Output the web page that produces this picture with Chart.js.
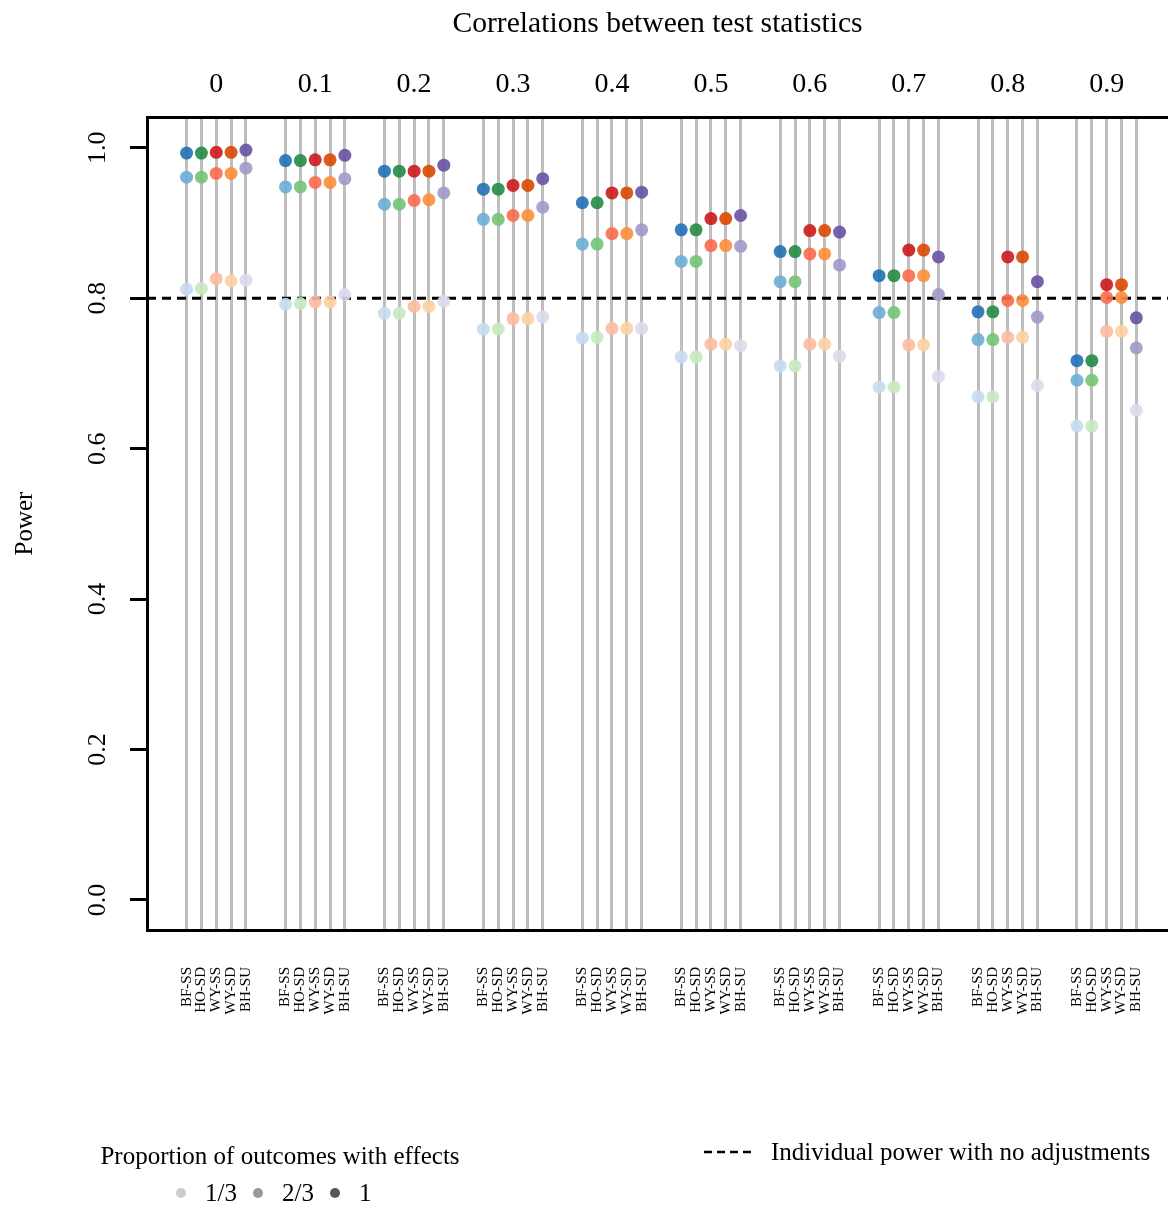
<!DOCTYPE html>
<html>
<head>
<meta charset="utf-8">
<script src="https://cdn.jsdelivr.net/npm/chart.js@4.4.1/dist/chart.umd.min.js"></script>
<style>
    html, body { margin: 0; padding: 0; background: #fff; overflow: hidden; }
    #wrap { width: 1168px; height: 1205px; }
</style>
</head>
<body>
<div id="wrap"><canvas id="powerChart" width="1168" height="1205"></canvas></div>
<script>
// Data
const correlations = ['0', '0.1', '0.2', '0.3', '0.4', '0.5', '0.6', '0.7', '0.8', '0.9'];
const procedures = ['BF-SS', 'HO-SD', 'WY-SS', 'WY-SD', 'BH-SU'];
const proportions = ['1/3', '2/3', '1'];
const yTicks = [0, 0.2, 0.4, 0.6, 0.8, 1.0];
const yTickLabels = ['0.0', '0.2', '0.4', '0.6', '0.8', '1.0'];
const noAdjustmentPower = 0.8;

// power by procedure, for 1/3, 2/3 and all outcomes with effects
const bfssThird = [0.812, 0.792, 0.780, 0.759, 0.747, 0.722, 0.710, 0.682, 0.669, 0.630];
const bfssTwoThirds = [0.961, 0.948, 0.925, 0.905, 0.872, 0.849, 0.822, 0.781, 0.745, 0.691];
const bfssAll = [0.993, 0.983, 0.969, 0.945, 0.927, 0.891, 0.862, 0.830, 0.782, 0.717];

const hosdThird = [0.813, 0.793, 0.780, 0.759, 0.748, 0.722, 0.710, 0.682, 0.669, 0.630];
const hosdTwoThirds = [0.961, 0.948, 0.925, 0.905, 0.872, 0.849, 0.822, 0.781, 0.745, 0.691];
const hosdAll = [0.993, 0.983, 0.969, 0.945, 0.927, 0.891, 0.862, 0.830, 0.782, 0.717];

const wyssThird = [0.826, 0.795, 0.789, 0.773, 0.760, 0.739, 0.739, 0.738, 0.748, 0.756];
const wyssTwoThirds = [0.966, 0.954, 0.930, 0.910, 0.886, 0.870, 0.859, 0.830, 0.797, 0.801];
const wyssAll = [0.994, 0.984, 0.969, 0.950, 0.940, 0.906, 0.890, 0.864, 0.855, 0.818];

const wysdThird = [0.823, 0.795, 0.789, 0.773, 0.760, 0.739, 0.739, 0.738, 0.748, 0.756];
const wysdTwoThirds = [0.966, 0.954, 0.931, 0.910, 0.886, 0.870, 0.859, 0.830, 0.797, 0.801];
const wysdAll = [0.994, 0.984, 0.969, 0.950, 0.940, 0.906, 0.890, 0.864, 0.855, 0.818];

const bhsuThird = [0.824, 0.805, 0.796, 0.775, 0.760, 0.737, 0.723, 0.696, 0.684, 0.651];
const bhsuTwoThirds = [0.973, 0.959, 0.940, 0.921, 0.891, 0.869, 0.844, 0.805, 0.775, 0.734];
const bhsuAll = [0.997, 0.990, 0.977, 0.959, 0.941, 0.910, 0.888, 0.855, 0.822, 0.774];

const powerByProc = [
    [bfssThird, bfssTwoThirds, bfssAll],
    [hosdThird, hosdTwoThirds, hosdAll],
    [wyssThird, wyssTwoThirds, wyssAll],
    [wysdThird, wysdTwoThirds, wysdAll],
    [bhsuThird, bhsuTwoThirds, bhsuAll]
];

// Styling
const procColors = [
    ['rgba(198,219,239,0.9)', 'rgba(107,174,214,0.9)', 'rgba(33,113,181,0.9)'],
    ['rgba(199,233,192,0.9)', 'rgba(116,196,118,0.9)', 'rgba(35,139,69,0.9)'],
    ['rgba(252,187,161,0.9)', 'rgba(251,106,74,0.9)', 'rgba(203,24,29,0.9)'],
    ['rgba(253,208,162,0.9)', 'rgba(253,141,60,0.9)', 'rgba(217,72,1,0.9)'],
    ['rgba(218,218,235,0.9)', 'rgba(158,154,200,0.9)', 'rgba(106,81,163,0.9)']
];
const legendGrays = ['#cccccc', '#9a9a9a', '#575757'];
const procSpacing = 0.15;
const xMin = -0.70, xMax = 9.62;
const serif = 'Liberation Serif';

const procX = (g, j) => g + (j - 2) * procSpacing;
const columnX = [];
correlations.forEach((c, g) => procedures.forEach((p, j) => columnX.push(procX(g, j))));

const datasets = [{
    type: 'line',
    label: 'Individual power with no adjustments',
    data: [{ x: xMin, y: noAdjustmentPower }, { x: xMax, y: noAdjustmentPower }],
    borderColor: '#000', borderWidth: 3, borderDash: [9, 6],
    pointRadius: 0, fill: false, order: 10
}];
proportions.forEach((prop, k) => {
    procedures.forEach((proc, j) => {
        datasets.push({
            type: 'scatter',
            label: proc + ' ' + prop,
            data: powerByProc[j][k].map((v, g) => ({ x: procX(g, j), y: v })),
            backgroundColor: procColors[j][k],
            pointRadius: 6.5, pointBorderWidth: 0, pointHoverRadius: 6.5,
            order: 3 - k
        });
    });
});

// no extra side padding, the frame runs to the right edge
const noSidePadding = (s, h) => {
    s.height = h;
    s.paddingLeft = 0;
    s.paddingRight = 0;
};

// Legends under the plot
const legendPlugin = {
    id: 'outcomeLegend',
    afterDraw(chart) {
        const ctx = chart.ctx;
        ctx.save();
        ctx.fillStyle = '#000';
        ctx.font = `25px "${serif}"`;
        ctx.textBaseline = 'alphabetic';
        ctx.textAlign = 'center';
        ctx.fillText('Proportion of outcomes with effects', 280, 1164);

        ctx.textAlign = 'left';
        const dotX = [181, 258, 335];
        proportions.forEach((p, k) => {
            ctx.fillStyle = legendGrays[k];
            ctx.beginPath();
            ctx.arc(dotX[k], 1193, 5, 0, Math.PI * 2);
            ctx.fill();
            ctx.fillStyle = '#000';
            ctx.fillText(p, dotX[k] + 24, 1201);
        });

        ctx.strokeStyle = '#000';
        ctx.lineWidth = 2.5;
        ctx.setLineDash([8, 5]);
        ctx.beginPath();
        ctx.moveTo(704, 1152);
        ctx.lineTo(752, 1152);
        ctx.stroke();
        ctx.setLineDash([]);
        ctx.fillText('Individual power with no adjustments', 771, 1160);
        ctx.restore();
    }
};

new Chart(document.getElementById('powerChart'), {
    type: 'scatter',
    data: { datasets },
    options: {
        responsive: false,
        animation: false,
        devicePixelRatio: 1,
        layout: { padding: 0, autoPadding: false },
        plugins: { legend: { display: false }, tooltip: { enabled: false } },
        scales: {
            x: {
                type: 'linear', position: 'bottom', min: xMin, max: xMax,
                afterBuildTicks: s => { s.ticks = columnX.map(v => ({ value: v })); },
                afterFit: s => noSidePadding(s, 275),
                grid: { display: true, drawOnChartArea: true, drawTicks: false, color: '#bebebe', lineWidth: 3 },
                border: { display: true, color: '#000', width: 3 },
                ticks: {
                    autoSkip: false, minRotation: 90, maxRotation: 90, padding: 37,
                    color: '#000', font: { family: serif, size: 15 },
                    callback: (v, i) => procedures[i % procedures.length]
                }
            },
            x2: {
                type: 'linear', position: 'top', min: xMin, max: xMax,
                afterBuildTicks: s => { s.ticks = correlations.map((c, i) => ({ value: i })); },
                afterFit: s => noSidePadding(s, 117),
                grid: { display: false },
                border: { display: true, color: '#000', width: 3 },
                ticks: {
                    autoSkip: false, maxRotation: 0, padding: 8,
                    color: '#000', font: { family: serif, size: 28 },
                    callback: (v, i) => correlations[i]
                },
                title: {
                    display: true, text: 'Correlations between test statistics',
                    color: '#000', font: { family: serif, size: 29.6 }, padding: { top: 6, bottom: 0 }
                }
            },
            y: {
                type: 'linear', position: 'left', min: -0.04, max: 1.041,
                afterBuildTicks: s => { s.ticks = yTicks.map(v => ({ value: v })); },
                afterFit: s => { s.width = 147; },
                grid: { drawOnChartArea: false, drawTicks: true, tickLength: 17, color: '#000', lineWidth: 3 },
                border: { display: true, color: '#000', width: 3 },
                ticks: {
                    minRotation: 90, maxRotation: 90, crossAlign: 'center', padding: 16,
                    color: '#000', font: { family: serif, size: 26 },
                    callback: (v, i) => yTickLabels[i]
                },
                title: {
                    display: true, text: 'Power', color: '#000',
                    font: { family: serif, size: 25 }, padding: { top: 10, bottom: 0 }
                }
            }
        }
    },
    plugins: [legendPlugin]
});
</script>
</body>
</html>
